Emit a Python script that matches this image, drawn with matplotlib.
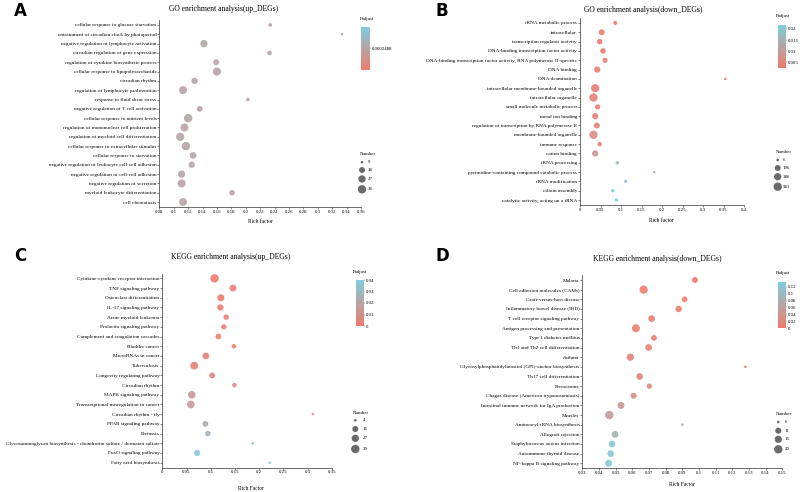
import numpy as np
import matplotlib
matplotlib.use('Agg')
import matplotlib.pyplot as plt
from matplotlib.colors import LinearSegmentedColormap, Normalize
from matplotlib.cm import ScalarMappable

plt.rcParams['font.family'] = ['Liberation Serif', 'DejaVu Serif']

W, H = 800, 492

# ---- A: GO up
go_up_terms = ["cellular response to glucose starvation",
               "entrainment of circadian clock by photoperiod",
               "negative regulation of lymphocyte activation",
               "circadian regulation of gene expression",
               "regulation of cytokine biosynthetic process",
               "cellular response to lipopolysaccharide",
               "circadian rhythm",
               "regulation of lymphocyte proliferation",
               "response to fluid shear stress",
               "negative regulation of T cell activation",
               "cellular response to nutrient levels",
               "regulation of mononuclear cell proliferation",
               "regulation of myeloid cell differentiation",
               "cellular response to extracellular stimulus",
               "cellular response to starvation",
               "negative regulation of leukocyte cell-cell adhesion",
               "negative regulation of cell-cell adhesion",
               "negative regulation of secretion",
               "myeloid leukocyte differentiation",
               "cell chemotaxis"]
go_up_rich = [0.234, 0.334, 0.142, 0.233, 0.159, 0.160, 0.129, 0.113, 0.203, 0.136,
              0.120, 0.115, 0.109, 0.117, 0.127, 0.125, 0.111, 0.111, 0.181, 0.113]
go_up_count = [10, 9, 27, 12, 18, 33, 20, 33, 10, 17, 36, 33, 35, 38, 22, 20, 26, 33, 16, 32]
go_up_padj = [0.0002488] * 20

# ---- B: GO down
go_dn_terms = ["tRNA metabolic process", "intracellular", "transcription regulator activity",
               "DNA-binding transcription factor activity",
               "DNA-binding transcription factor activity, RNA polymerase II-specific",
               "DNA binding", "DNA deamination", "intracellular membrane-bounded organelle",
               "intracellular organelle", "small molecule metabolic process", "metal ion binding",
               "regulation of transcription by RNA polymerase II", "membrane-bounded organelle",
               "immune response", "cation binding", "tRNA processing",
               "pyrimidine-containing compound catabolic process", "tRNA modification",
               "cilium assembly", "catalytic activity, acting on a tRNA"]
go_dn_rich = [0.086, 0.053, 0.048, 0.056, 0.061, 0.042, 0.354, 0.037, 0.033, 0.043,
              0.037, 0.041, 0.033, 0.048, 0.037, 0.091, 0.181, 0.111, 0.080, 0.089]
go_dn_count = [40, 200, 155, 155, 120, 235, 6, 540, 581, 120, 235, 200, 560, 70, 235, 20, 6, 15, 15, 15]
go_dn_padj = [0.0026, 0.0027, 0.0028, 0.0030, 0.0031, 0.0035, 0.0035, 0.0037, 0.0038, 0.0040,
              0.0042, 0.0045, 0.0060, 0.0048, 0.0090, 0.0160, 0.0165, 0.0190, 0.0205, 0.0215]

# ---- C: KEGG up
kegg_up_terms = ["Cytokine-cytokine receptor interaction", "TNF signaling pathway",
                 "Osteoclast differentiation", "IL-17 signaling pathway", "Acute myeloid leukemia",
                 "Prolactin signaling pathway", "Complement and coagulation cascades", "Bladder cancer",
                 "MicroRNAs in cancer", "Tuberculosis", "Longevity regulating pathway",
                 "Circadian rhythm", "MAPK signaling pathway", "Transcriptional misregulation in cancer",
                 "Circadian rhythm - fly", "PPAR signaling pathway", "Pertussis",
                 "Glycosaminoglycan biosynthesis - chondroitin sulfate / dermatan sulfate",
                 "FoxO signaling pathway", "Fatty acid biosynthesis"]
kegg_up_rich = [0.108, 0.146, 0.121, 0.120, 0.132, 0.127, 0.116, 0.148, 0.090, 0.066,
                0.103, 0.149, 0.061, 0.059, 0.311, 0.089, 0.094, 0.187, 0.072, 0.222]
kegg_up_count = [39, 22, 24, 18, 12, 12, 14, 8, 22, 33, 15, 8, 30, 31, 4, 15, 13, 4, 18, 4]
kegg_up_padj = [0.0003, 0.0005, 0.0008, 0.001, 0.0015, 0.002, 0.0025, 0.003, 0.0035, 0.004,
                0.005, 0.009, 0.015, 0.016, 0.014, 0.023, 0.027, 0.035, 0.037, 0.040]

# ---- D: KEGG down
kegg_dn_terms = ["Malaria", "Cell adhesion molecules (CAMs)", "Graft-versus-host disease",
                 "Inflammatory bowel disease (IBD)", "T cell receptor signaling pathway",
                 "Antigen processing and presentation", "Type I diabetes mellitus",
                 "Th1 and Th2 cell differentiation", "Asthma",
                 "Glycosylphosphatidylinositol (GPI)-anchor biosynthesis", "Th17 cell differentiation",
                 "Peroxisome", "Chagas disease (American trypanosomiasis)",
                 "Intestinal immune network for IgA production", "Measles",
                 "Aminoacyl-tRNA biosynthesis", "Allograft rejection",
                 "Staphylococcus aureus infection", "Autoimmune thyroid disease",
                 "NF-kappa B signaling pathway"]
kegg_dn_rich = [0.0976, 0.0668, 0.0914, 0.0878, 0.0716, 0.0622, 0.0730, 0.0698, 0.0588, 0.1278,
                0.0644, 0.0702, 0.0608, 0.0532, 0.0462, 0.0900, 0.0496, 0.0478, 0.0470, 0.0458]
kegg_dn_count = [11, 19, 10, 12, 13, 18, 10, 13, 15, 6, 13, 9, 11, 14, 20, 6, 13, 13, 13, 14]
kegg_dn_padj = [0.001, 0.002, 0.003, 0.004, 0.006, 0.007, 0.008, 0.010, 0.012, 0.014,
                0.016, 0.020, 0.030, 0.045, 0.055, 0.070, 0.085, 0.120, 0.125, 0.130]

cmap = LinearSegmentedColormap.from_list('padj', ['#EE7B6C', '#7FCDDE'])
YTXT = 3.75   # term labels
XTXT = 3.5    # numeric tick labels
TXT = 3.5     # legend text


def box(l, t, r, b):
    return [l / W, 1 - b / H, (r - l) / W, (b - t) / H]


def dot(n, nmin, nmax, dmin=2.6, dmax=8.4):
    frac = np.clip((np.asarray(n, float) - nmin) / (nmax - nmin), 0, 1)
    d = dmin + (dmax - dmin) * np.sqrt(frac)
    return (d * 72 / 100) ** 2


def fmt(v):
    return f"{round(v, 4):g}"


fig = plt.figure(figsize=(W / 100, H / 100), dpi=100)
ov = fig.add_axes([0, 0, 1, 1])
ov.set_xlim(0, W)
ov.set_ylim(H, 0)
ov.axis('off')


def panel(rect, terms, rich, count, padj, xlim, step, nrange, norm):
    ax = fig.add_axes(box(*rect))
    y = np.arange(len(terms))
    ax.scatter(rich, y, s=dot(count, *nrange), c=padj, cmap=cmap, norm=norm,
               alpha=0.9, edgecolors='none', zorder=3)
    ax.set_xlim(*xlim)
    ax.set_ylim(len(terms) - 0.5, -0.5)
    xt = np.arange(xlim[0], xlim[1] + step / 2, step)
    ax.set_xticks(xt)
    ax.set_xticklabels([fmt(v) for v in xt])
    ax.set_yticks(y)
    ax.set_yticklabels(terms)
    ax.tick_params(length=1.3, width=0.4, pad=0.8, color='#333333')
    ax.tick_params(axis='y', labelsize=YTXT)
    ax.tick_params(axis='x', labelsize=XTXT)
    for s in ['top', 'right']:
        ax.spines[s].set_visible(False)
    for s in ['left', 'bottom']:
        ax.spines[s].set_linewidth(0.5)
        ax.spines[s].set_color('#333333')
    ax.patch.set_visible(False)
    return ax


def cbar(rect, norm, ticks, labels, title_xy):
    cax = fig.add_axes(box(*rect))
    cb = fig.colorbar(ScalarMappable(norm=norm, cmap=cmap), cax=cax)
    cb.outline.set_visible(False)
    cb.set_ticks(ticks)
    cb.set_ticklabels(labels)
    cax.tick_params(labelsize=TXT, length=1.0, width=0.3, pad=0.6, color='#555555')
    ov.text(title_xy[0], title_xy[1], 'Padjust', fontsize=TXT, ha='left', va='center')


def size_legend(breaks, nrange, title_xy, cx, ys, tx):
    ov.text(title_xy[0], title_xy[1], 'Number', fontsize=TXT, ha='left', va='center')
    ov.scatter([cx] * len(breaks), ys, s=dot(breaks, *nrange), color='#6b6b6b',
               edgecolors='none')
    for b, yy in zip(breaks, ys):
        ov.text(tx, yy, str(b), fontsize=TXT, ha='left', va='center')


# A
normA = Normalize(0.0002488 * 0.999, 0.0002488 * 1.001)
panel((159.3, 20.3, 360.9, 206.7), go_up_terms, go_up_rich, go_up_count, go_up_padj,
      (0.08, 0.36), 0.02, (9, 36), normA)
cbar((361, 27, 370, 70), normA, [0.0002488], ['0.0002488'], (360, 19))
size_legend([9, 18, 27, 36], (9, 36), (360, 154), 362, [162.3, 170, 179, 189.3], 368)
ov.text(224, 9, 'GO enrichment analysis(up_DEGs)', fontsize=5.5, ha='center', va='center')
ov.text(260, 221.7, 'Rich factor', fontsize=4, ha='center', va='center')

# B
normB = Normalize(0.0024, 0.0218)
panel((580, 18.3, 744, 204.7), go_dn_terms, go_dn_rich, go_dn_count, go_dn_padj,
      (0, 0.4), 0.05, (6, 581), normB)
cbar((778.3, 25, 785.7, 68), normB, [0.005, 0.01, 0.015, 0.02],
     ['0.005', '0.01', '0.015', '0.02'], (776, 16))
size_legend([6, 196, 386, 581], (6, 581), (776, 151.7), 777.7, [160, 168, 176.7, 186.7], 783)
ov.text(643, 10, 'GO enrichment analysis(down_DEGs)', fontsize=5.5, ha='center', va='center')
ov.text(661.7, 220, 'Rich factor', fontsize=4, ha='center', va='center')

# C
normC = Normalize(0, 0.04)
panel((162.3, 273.5, 331.7, 467.5), kegg_up_terms, kegg_up_rich, kegg_up_count, kegg_up_padj,
      (0, 0.35), 0.05, (4, 39), normC)
cbar((356, 280, 364, 326), normC, [0, 0.01, 0.02, 0.03, 0.04],
     ['0', '0.01', '0.02', '0.03', '0.04'], (353, 271.7))
size_legend([4, 16, 27, 39], (4, 39), (353, 412.7), 355.3, [420.3, 429, 438.3, 449], 363)
ov.text(230.5, 257.3, 'KEGG enrichment analysis(up_DEGs)', fontsize=5.5, ha='center', va='center')
ov.text(251, 489, 'Rich Factor', fontsize=4, ha='center', va='center')

# D
normD = Normalize(0, 0.134)
panel((582.3, 275.2, 782.3, 468.1), kegg_dn_terms, kegg_dn_rich, kegg_dn_count, kegg_dn_padj,
      (0.03, 0.15), 0.01, (6, 20), normD)
cbar((778, 282, 785.7, 328), normD, [0, 0.02, 0.04, 0.06, 0.08, 0.1, 0.12],
     ['0', '0.02', '0.04', '0.06', '0.08', '0.1', '0.12'], (775.7, 273.3))
size_legend([6, 11, 15, 20], (6, 20), (776, 413.7), 778.3, [422, 430.7, 439.3, 449.3], 785)
ov.text(657.5, 259, 'KEGG enrichment analysis(down_DEGs)', fontsize=5.5, ha='center', va='center')
ov.text(682, 484, 'Rich Factor', fontsize=4, ha='center', va='center')

# panel letters
for letter, (lx, ly) in zip('ABCD', [(20, 11), (442, 11), (20, 256), (442, 256)]):
    ov.text(lx, ly, letter, fontsize=12, fontweight='bold', family='DejaVu Sans',
            ha='center', va='center')

fig.savefig('out.png', dpi=100)
